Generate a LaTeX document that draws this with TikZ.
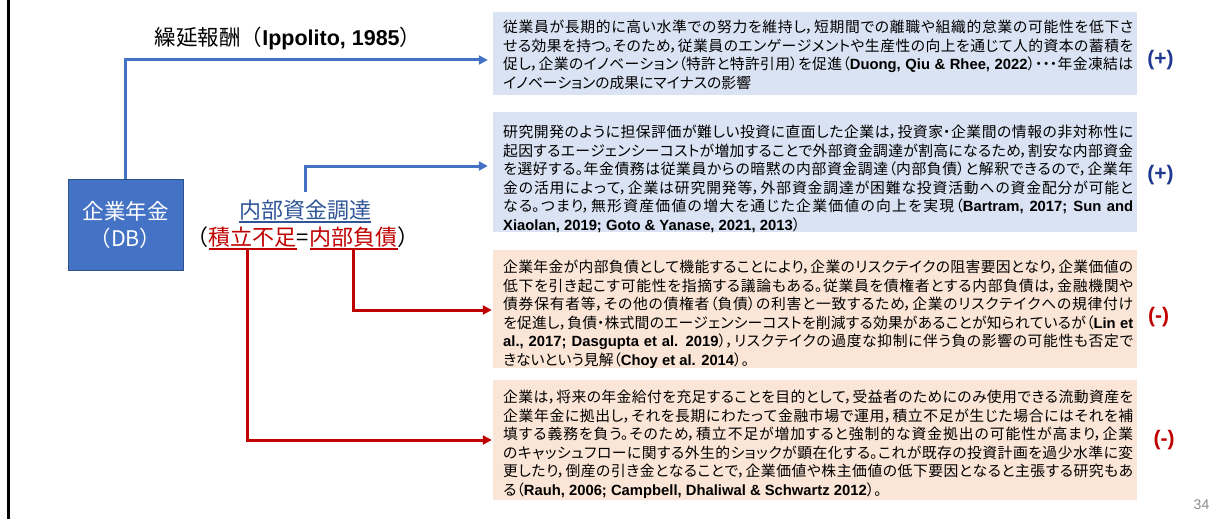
\documentclass[tikz,border=0pt]{standalone}
\usepackage{fontspec}
\setmainfont{Noto Sans CJK JP}
\newfontfamily\jpp{Noto Sans CJK JP}[RawFeature=+palt]
\newfontfamily\lat{Liberation Sans}
\usetikzlibrary{arrows.meta}
\definecolor{boxblue}{HTML}{DAE3F3}
\definecolor{boxred}{HTML}{FBE5D6}
\definecolor{acc}{HTML}{4472C4}
\definecolor{accdark}{HTML}{2F528F}
\definecolor{darkred}{HTML}{C00000}
\definecolor{navy}{HTML}{203890}
\definecolor{ulblue}{HTML}{2F5597}
\definecolor{pgray}{HTML}{8C8C8C}
\XeTeXlinebreaklocale "ja"
\XeTeXlinebreakskip=0pt plus 2pt minus 0.6pt
\newcommand\B[1]{{\lat\bfseries #1}}
\newcommand\UL[1]{\setbox0=\hbox{#1}\rlap{\rule[-4.6pt]{\wd0}{1.4pt}}\box0}
\newcommand\JL[1]{{\parfillskip=0pt\tolerance=10000\hyphenpenalty=10000\noindent\rule[-4pt]{0pt}{18pt}#1\par}}
\newcommand\LL[1]{{\parfillskip=0pt plus 1fil\hyphenpenalty=10000\noindent\rule[-4pt]{0pt}{18pt}#1\par}}
\begin{document}
\begin{tikzpicture}[x=1pt,y=-1pt,
  pbox/.style={rectangle, inner sep=0pt, minimum width=644pt},
  ptext/.style={anchor=north west, inner sep=0pt, text width=630pt, align=justify, font=\jpp\fontsize{14.8}{18.6}\selectfont},
  barrow/.style={draw=acc, line width=3pt, -{Triangle[length=9pt,width=9pt]}, shorten >=5pt},
  rarrow/.style={draw=darkred, line width=3pt, -{Triangle[length=9pt,width=9pt]}, shorten >=1pt},
  sign/.style={font=\lat\bfseries\fontsize{21}{24}\selectfont, inner sep=0pt},
  head/.style={inner sep=0pt, font=\fontsize{22}{26}\selectfont}]
\useasboundingbox (0,0) rectangle (1215,519);
\fill[white] (0,0) rectangle (1215,519);
\draw[line width=2.6pt] (8.5,0) -- (8.5,519);

% text boxes
\node[pbox, fill=boxblue, minimum height=83pt] (b1) at (815,53.5) {};
\node[pbox, fill=boxblue, minimum height=120pt] (b2) at (815,172) {};
\node[pbox, fill=boxred, minimum height=118pt] (b3) at (815,309) {};
\node[pbox, fill=boxred, minimum height=120pt] (b4) at (815,440) {};

\node[ptext] (tx1) at (503,18.3) {%
\JL{従業員が長期的に高い水準での努力を維持し，短期間での離職や組織的怠業の可能性を低下さ}%
\JL{せる効果を持つ。そのため，従業員のエンゲージメントや生産性の向上を通じて人的資本の蓄積を}%
\JL{促し，企業のイノベーション（特許と特許引用）を促進（\B{Duong, Qiu \& Rhee, 2022}）・・・年金凍結は}%
\LL{イノベーションの成果にマイナスの影響}};

\node[ptext] (tx2) at (503,123.3) {%
\JL{研究開発のように担保評価が難しい投資に直面した企業は，投資家・企業間の情報の非対称性に}%
\JL{起因するエージェンシーコストが増加することで外部資金調達が割高になるため，割安な内部資金}%
\JL{を選好する。年金債務は従業員からの暗黙の内部資金調達（内部負債）と解釈できるので，企業年}%
\JL{金の活用によって，企業は研究開発等，外部資金調達が困難な投資活動への資金配分が可能と}%
\JL{なる。つまり，無形資産価値の増大を通じた企業価値の向上を実現（\B{Bartram, 2017; Sun and}}%
\LL{\B{Xiaolan, 2019; Goto \& Yanase, 2021, 2013}）}};

\node[ptext] (tx3) at (503,258.3) {%
\JL{企業年金が内部負債として機能することにより，企業のリスクテイクの阻害要因となり，企業価値の}%
\JL{低下を引き起こす可能性を指摘する議論もある。従業員を債権者とする内部負債は，金融機関や}%
\JL{債券保有者等，その他の債権者（負債）の利害と一致するため，企業のリスクテイクへの規律付け}%
\JL{を促進し，負債・株式間のエージェンシーコストを削減する効果があることが知られているが（\B{Lin et}}%
\JL{\B{al., 2017; Dasgupta et al. 2019}），リスクテイクの過度な抑制に伴う負の影響の可能性も否定で}%
\LL{きないという見解（\B{Choy et al. 2014}）。}};

\node[ptext] (tx4) at (503,388.3) {%
\JL{企業は，将来の年金給付を充足することを目的として，受益者のためにのみ使用できる流動資産を}%
\JL{企業年金に拠出し，それを長期にわたって金融市場で運用，積立不足が生じた場合にはそれを補}%
\JL{填する義務を負う。そのため，積立不足が増加すると強制的な資金拠出の可能性が高まり，企業}%
\JL{のキャッシュフローに関する外生的ショックが顕在化する。これが既存の投資計画を過少水準に変}%
\JL{更したり，倒産の引き金となることで，企業価値や株主価値の低下要因となると主張する研究もあ}%
\LL{る（\B{Rauh, 2006; Campbell, Dhaliwal \& Schwartz 2012}）。}};

% left side
\node[rectangle, fill=acc, draw=accdark, line width=0.8pt, minimum width=115pt, minimum height=91pt,
  text=white, align=center, font=\fontsize{21.5}{27}\selectfont] (db) at (125.5,224.5) {企業年金\\（DB）};

\node[inner sep=0pt, anchor=base, font=\fontsize{21.5}{26}\selectfont] (lab) at (288,46) {繰延報酬（\B{Ippolito, 1985}）};

\node[head, anchor=base, text=ulblue] (nb) at (305,218) {\UL{内部資金調達}};
\node[head, anchor=base, text=darkred] (kf) at (252.5,245) {\UL{積立不足}};
\node[head, anchor=base west] (eq) at (kf.base east) {=};
\node[head, anchor=base west, text=darkred] (nf) at (eq.base east) {\UL{内部負債}};
\node[head, anchor=base east] (lp) at (kf.base west) {（};
\node[head, anchor=base west] (rp) at (nf.base east) {）};

% signs
\node[sign, text=navy] (s1) at (1160.5,60) {(+)};
\node[sign, text=navy] (s2) at (1160.5,175) {(+)};
\node[sign, text=darkred] (s3) at (1158.5,317) {(-)};
\node[sign, text=darkred] (s4) at (1164,440) {(-)};

\node[inner sep=0pt, text=pgray, font=\lat\fontsize{14}{16}\selectfont] (pg) at (1201.5,505) {34};

% connectors
\draw[barrow] (db.north) |- ([yshift=-6.5pt]b1.west);
\draw[barrow] ([yshift=7pt]nb.north) |- ([yshift=6pt]b2.west);
\draw[rarrow] (nf.south) |- ([yshift=-1pt]b3.west);
\draw[rarrow] ([xshift=-5.5pt]kf.south) |- (b4.west);
\end{tikzpicture}
\end{document}
